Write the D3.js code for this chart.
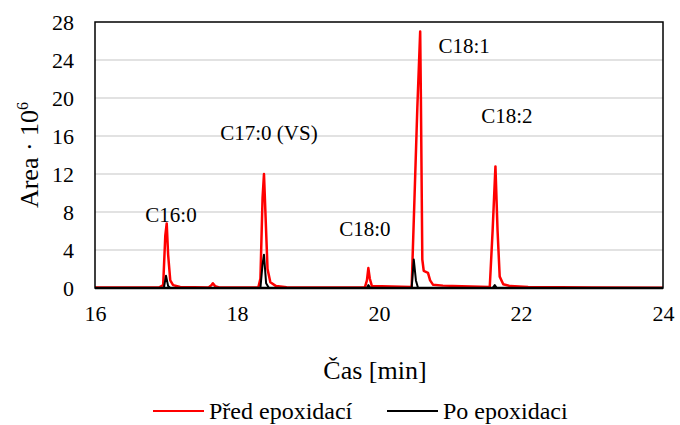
<!DOCTYPE html>
<html>
<head>
<meta charset="utf-8">
<script src="https://cdn.jsdelivr.net/npm/d3@7"></script>
<style>
  body { margin: 0; background: #fff; }
</style>
</head>
<body>
<div id="chart-area"></div>
<script>
// chromatogram, red = before epoxidation, black = after
const redTimes = [16, 16.9, 16.96, 16.99, 17.01, 17.03, 17.06, 17.1, 17.2, 17.6, 17.64, 17.66, 17.69, 17.75,
  18.3, 18.33, 18.36, 18.38, 18.4, 18.43, 18.47, 18.55, 18.7, 19.8, 19.83, 19.85, 19.87, 19.9,
  20.46, 20.5, 20.54, 20.58, 20.59, 20.61, 20.63, 20.66, 20.69, 20.72, 20.76, 20.9, 21.3,
  21.56, 21.6, 21.64, 21.67, 21.7, 21.75, 21.85, 22.1, 23, 24];
const redValues = [0.05, 0.05, 0.3, 5.5, 6.8, 3.5, 0.8, 0.3, 0.1, 0.05, 0.3, 0.5, 0.2, 0.05,
  0.05, 1.0, 9.5, 12.0, 8.0, 2.0, 0.6, 0.2, 0.08, 0.05, 0.8, 2.1, 1.0, 0.2,
  0.1, 9.5, 19, 27, 20, 3, 1.8, 1.7, 1.6, 0.8, 0.35, 0.25, 0.15,
  0.1, 6, 12.8, 6, 1.2, 0.4, 0.2, 0.1, 0.05, 0.03];

const blackTimes = [16, 16.97, 17.0, 17.03, 17.06, 18.33, 18.36, 18.38, 18.41, 18.45,
  19.83, 19.85, 19.88, 20.46, 20.49, 20.52, 20.55, 21.6, 21.63, 21.66, 24];
const blackValues = [0, 0, 1.3, 0.2, 0, 0, 2.5, 3.5, 0.5, 0,
  0, 0.3, 0, 0, 3.0, 0.8, 0, 0, 0.3, 0, 0];

const xTicks = [16, 18, 20, 22, 24];
const yTicks = [0, 4, 8, 12, 16, 20, 24, 28];

const peakNames = ["C16:0", "C17:0 (VS)", "C18:0", "C18:1", "C18:2"];
const peakLabelTimes = [17.07, 18.45, 19.8, 21.2, 21.8];
const peakLabelValues = [7, 15.6, 5.5, 24.7, 17.4];

const seriesNames = ["Před epoxidací", "Po epoxidaci"];
const seriesColors = ["#ff0000", "#000000"];

const FONT = "'Liberation Serif', 'Times New Roman', Times, serif";
const W = 680, H = 425;
const MARGIN = { LEFT: 95, RIGHT: 17, TOP: 22, BOTTOM: 137 };

const svg = d3.select("#chart-area").append("svg")
  .attr("width", W)
  .attr("height", H)
  .attr("font-family", FONT);

const x = d3.scaleLinear().domain([16, 24]).range([MARGIN.LEFT, W - MARGIN.RIGHT]);
const y = d3.scaleLinear().domain([0, 28]).range([H - MARGIN.BOTTOM, MARGIN.TOP]);

// gridlines
svg.append("g").selectAll("line")
  .data(yTicks.filter(d => d > 0 && d < 28))
  .enter().append("line")
  .attr("x1", x(16)).attr("x2", x(24))
  .attr("y1", d => y(d)).attr("y2", d => y(d))
  .attr("stroke", "#d9d9d9")
  .attr("stroke-width", 1.5);

// y tick labels
const yAxis = d3.axisLeft(y).tickValues(yTicks).tickSize(0).tickPadding(21);
svg.append("g")
  .attr("transform", `translate(${x(16)},0)`)
  .call(yAxis)
  .attr("font-family", FONT)
  .attr("font-size", 22)
  .call(g => g.select(".domain").remove())
  .selectAll("text").attr("fill", "#000");

// x tick labels
const xAxis = d3.axisBottom(x).tickValues(xTicks).tickSize(0).tickPadding(17);
svg.append("g")
  .attr("transform", `translate(0,${y(0)})`)
  .call(xAxis)
  .attr("font-family", FONT)
  .attr("font-size", 22)
  .call(g => g.select(".domain").remove())
  .selectAll("text").attr("fill", "#000");

// lines
const line = d3.line().x(d => x(d[0])).y(d => y(d[1]));

svg.append("path")
  .datum(redTimes.map((t, i) => [t, redValues[i]]))
  .attr("fill", "none")
  .attr("stroke", seriesColors[0])
  .attr("stroke-width", 2.5)
  .attr("stroke-linejoin", "round")
  .attr("d", line);

svg.append("path")
  .datum(blackTimes.map((t, i) => [t, blackValues[i]]))
  .attr("fill", "none")
  .attr("stroke", seriesColors[1])
  .attr("stroke-width", 2)
  .attr("stroke-linejoin", "round")
  .attr("d", line);

// frame
svg.append("rect")
  .attr("x", x(16)).attr("y", y(28))
  .attr("width", x(24) - x(16)).attr("height", y(0) - y(28))
  .attr("fill", "none")
  .attr("stroke", "#000")
  .attr("stroke-width", 1.5);
svg.append("line")
  .attr("x1", x(16)).attr("x2", x(24))
  .attr("y1", y(0)).attr("y2", y(0))
  .attr("stroke", "#000").attr("stroke-width", 2.5);

// peak labels
svg.append("g").selectAll("text")
  .data(peakNames)
  .enter().append("text")
  .attr("x", (d, i) => x(peakLabelTimes[i]))
  .attr("y", (d, i) => y(peakLabelValues[i]))
  .attr("text-anchor", "middle")
  .attr("font-size", 21)
  .text(d => d);

// axis titles
svg.append("text")
  .attr("x", 375)
  .attr("y", 379)
  .attr("text-anchor", "middle")
  .attr("font-size", 26)
  .text("Čas [min]");

const yt = svg.append("text")
  .attr("transform", "translate(38,155) rotate(-90)")
  .attr("text-anchor", "middle")
  .attr("font-size", 26);
yt.append("tspan").text("Area · 10");
yt.append("tspan").attr("dy", -10).attr("font-size", 16).text("6");

// legend
const legendX = [153, 387];
const lg = svg.append("g").selectAll("g")
  .data(seriesNames)
  .enter().append("g")
  .attr("transform", (d, i) => `translate(${legendX[i]},411)`);
lg.append("line")
  .attr("x1", 0).attr("x2", 51)
  .attr("stroke", (d, i) => seriesColors[i])
  .attr("stroke-width", 2);
lg.append("text")
  .attr("x", 56)
  .attr("dy", "0.33em")
  .attr("font-size", 24)
  .text(d => d);
</script>
</body>
</html>
